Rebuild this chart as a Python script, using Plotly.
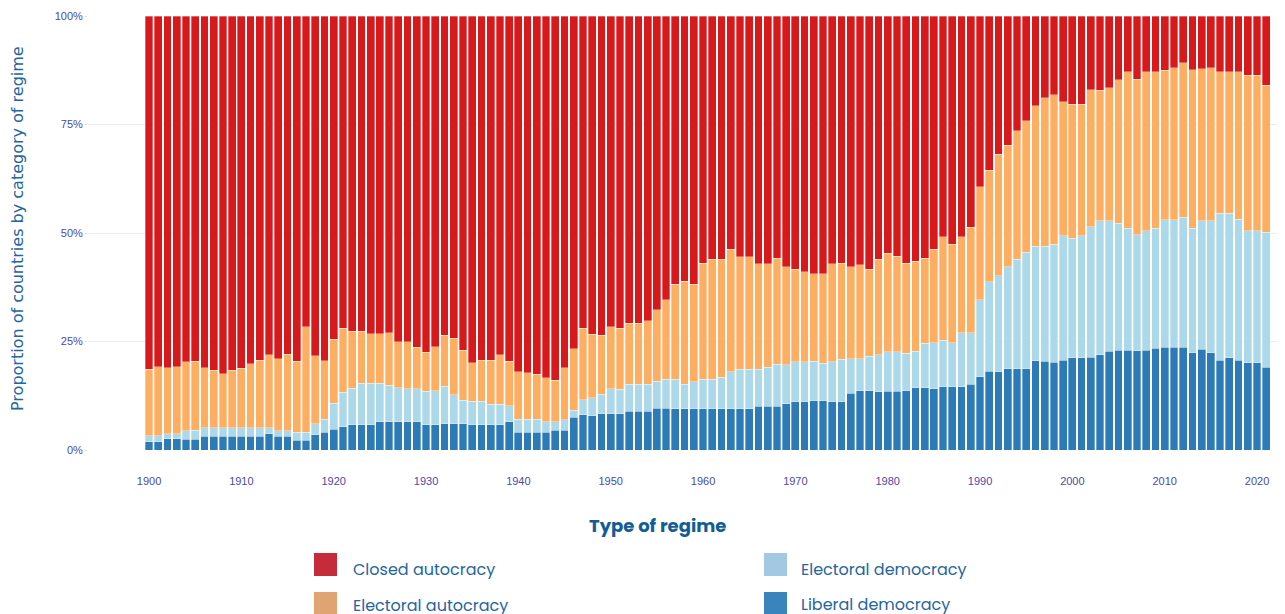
import plotly.graph_objects as go

years = list(range(1900, 2022))

liberal_democracy = [
    1.9, 1.9, 2.6, 2.6, 2.5, 2.5, 3.2, 3.2, 3.2, 3.2,
    3.2, 3.2, 3.2, 3.8, 3.2, 3.2, 2.3, 2.3, 3.5, 4.1,
    4.8, 5.4, 5.8, 5.8, 5.8, 6.5, 6.5, 6.5, 6.5, 6.5,
    5.8, 5.8, 6.1, 6.1, 6.1, 5.8, 5.8, 5.8, 5.8, 6.5,
    4.1, 4.1, 4.1, 4.1, 4.6, 4.6, 7.5, 8.1, 7.9, 8.4,
    8.4, 8.4, 8.9, 8.9, 8.9, 9.6, 9.6, 9.5, 9.5, 9.5,
    9.5, 9.5, 9.5, 9.5, 9.5, 9.5, 10.1, 10.1, 10.1, 10.7,
    11.1, 11.1, 11.4, 11.4, 11.1, 11.1, 13.1, 13.6, 13.6, 13.4,
    13.5, 13.5, 13.7, 14.3, 14.3, 14.1, 14.6, 14.6, 14.6, 15.1,
    16.9, 18.2, 18.0, 18.7, 18.7, 18.7, 20.6, 20.4, 20.2, 20.7,
    21.2, 21.2, 21.4, 22.0, 22.7, 23.0, 23.0, 22.9, 23.0, 23.5,
    23.7, 23.7, 23.7, 22.4, 23.2, 22.4, 20.7, 21.2, 20.7, 20.1,
    20.1, 19.1,
]

electoral_democracy = [
    1.4, 1.4, 1.2, 1.2, 1.9, 2.0, 1.9, 1.9, 1.9, 1.9,
    1.9, 1.9, 1.9, 1.3, 1.2, 1.2, 1.8, 1.8, 2.6, 3.0,
    6.0, 7.9, 8.4, 9.6, 9.6, 8.9, 8.4, 7.8, 7.6, 7.6,
    7.7, 7.8, 8.6, 6.6, 5.4, 5.4, 5.4, 4.8, 4.8, 3.7,
    3.0, 3.0, 3.0, 2.4, 1.9, 2.4, 1.7, 3.5, 4.1, 4.5,
    5.7, 5.6, 6.2, 6.2, 6.2, 6.2, 6.7, 6.8, 5.6, 6.2,
    6.8, 6.8, 7.3, 8.5, 9.1, 9.1, 8.5, 9.0, 9.7, 8.9,
    9.2, 9.2, 9.1, 8.6, 9.2, 9.8, 7.9, 7.4, 8.0, 8.5,
    9.1, 9.1, 8.6, 8.5, 10.3, 10.6, 10.7, 10.1, 12.4, 11.9,
    17.7, 20.6, 22.2, 23.5, 25.2, 26.9, 26.4, 26.6, 27.2, 28.7,
    27.6, 28.2, 30.0, 30.8, 30.1, 29.2, 28.1, 26.7, 27.5, 27.6,
    29.4, 29.4, 29.9, 28.7, 29.6, 30.4, 33.8, 33.3, 32.5, 30.4,
    30.4, 31.1,
]

electoral_autocracy = [
    15.3, 15.9, 15.1, 15.4, 15.9, 15.9, 13.8, 13.3, 12.5, 13.3,
    13.7, 14.8, 15.6, 16.9, 16.6, 17.7, 16.3, 24.3, 15.6, 13.5,
    14.7, 14.7, 13.2, 12.0, 11.4, 11.4, 12.1, 10.7, 10.8, 9.6,
    9.0, 10.2, 11.7, 13.0, 11.5, 8.9, 9.5, 10.1, 11.4, 10.3,
    10.9, 10.7, 10.3, 10.2, 9.6, 11.9, 14.1, 16.4, 14.7, 13.5,
    14.3, 14.1, 14.1, 14.1, 14.7, 16.5, 18.3, 21.9, 23.8, 22.5,
    26.7, 27.6, 27.1, 28.2, 25.9, 25.9, 24.3, 23.8, 24.4, 22.6,
    21.4, 20.8, 20.1, 20.6, 22.6, 22.1, 21.2, 21.7, 20.0, 22.1,
    22.7, 22.1, 20.7, 20.7, 19.6, 21.5, 23.8, 22.7, 22.1, 24.3,
    26.1, 25.7, 27.9, 28.0, 29.7, 30.3, 32.3, 34.2, 34.4, 30.9,
    30.9, 30.3, 31.6, 30.1, 30.7, 33.1, 36.0, 35.8, 36.6, 36.0,
    34.4, 35.0, 35.6, 36.5, 35.1, 35.3, 32.6, 32.6, 33.9, 35.9,
    35.9, 33.9,
]

closed_autocracy = [
    81.4, 80.8, 81.1, 80.8, 79.7, 79.6, 81.1, 81.6, 82.4, 81.6,
    81.2, 80.1, 79.3, 78.0, 79.0, 77.9, 79.6, 71.6, 78.3, 79.4,
    74.5, 72.0, 72.6, 72.6, 73.2, 73.2, 73.0, 75.0, 75.1, 76.3,
    77.5, 76.2, 73.6, 74.3, 77.0, 79.9, 79.3, 79.3, 78.0, 79.5,
    82.0, 82.2, 82.6, 83.3, 83.9, 81.1, 76.7, 72.0, 73.3, 73.6,
    71.6, 71.9, 70.8, 70.8, 70.2, 67.7, 65.4, 61.8, 61.1, 61.8,
    57.0, 56.1, 56.1, 53.8, 55.5, 55.5, 57.1, 57.1, 55.8, 57.8,
    58.3, 58.9, 59.4, 59.4, 57.1, 57.0, 57.8, 57.3, 58.4, 56.0,
    54.7, 55.3, 57.0, 56.5, 55.8, 53.8, 50.9, 52.6, 50.9, 48.7,
    39.3, 35.5, 31.9, 29.8, 26.4, 24.1, 20.7, 18.8, 18.2, 19.7,
    20.3, 20.3, 17.0, 17.1, 16.5, 14.7, 12.9, 14.6, 12.9, 12.9,
    12.5, 11.9, 10.8, 12.4, 12.1, 11.9, 12.9, 12.9, 12.9, 13.6,
    13.6, 15.9,
]

series_names = ["Liberal democracy", "Electoral democracy", "Electoral autocracy", "Closed autocracy"]
series_values = [liberal_democracy, electoral_democracy, electoral_autocracy, closed_autocracy]
bar_colors = ["#2c7bb6", "#abd9e9", "#fdae61", "#d7191c"]

legend_order = ["Closed autocracy", "Electoral autocracy", "Electoral democracy", "Liberal democracy"]
legend_colors = {"Closed autocracy": "#c52b3a", "Electoral autocracy": "#e0a372",
                 "Electoral democracy": "#a3c8e1", "Liberal democracy": "#3a84bd"}

x_ticks = list(range(1900, 2021, 10))
y_ticks = [0, 25, 50, 75, 100]

fig = go.Figure()
for name, vals, col in zip(series_names, series_values, bar_colors):
    fig.add_trace(go.Bar(
        x=years, y=vals, name=name, width=0.84,
        marker=dict(color=col, line=dict(color="rgba(255,255,255,0.55)", width=0.6)),
        showlegend=False,
    ))

# page offset from the default body margin of the html page
OFF = 8
W, H = 1285 - OFF, 614 - OFF
L, R, T = 88 - OFF, 0, 16 - OFF
B = H - (450 - OFF)
pw, ph = W - L - R, H - T - B


def px(x):
    return (x - OFF - L) / pw


def py(y):
    return (450 - y) / ph


shapes = []
annotations = []
positions = {
    "Closed autocracy": (314, 553, 351, 569),
    "Electoral autocracy": (314, 592, 351, 605),
    "Electoral democracy": (764, 553, 799, 569),
    "Liberal democracy": (764, 592, 799, 604),
}
for name in legend_order:
    sx, sy, tx, ty = positions[name]
    shapes.append(dict(type="rect", xref="paper", yref="paper",
                       x0=px(sx), x1=px(sx + 23), y0=py(sy), y1=py(sy + 23),
                       fillcolor=legend_colors[name], line=dict(width=0), layer="above"))
    annotations.append(dict(text=name, xref="paper", yref="paper", x=px(tx), y=py(ty),
                            xanchor="left", yanchor="middle", showarrow=False,
                            font=dict(family="Poppins, Open Sans, sans-serif", size=16, color="#2466a0")))

annotations.append(dict(text="<b>Type of regime</b>", xref="paper", yref="paper",
                        x=px(657), y=py(525), xanchor="center", yanchor="middle", showarrow=False,
                        font=dict(family="Poppins, Open Sans, sans-serif", size=18, color="#135d96")))
annotations.append(dict(text="Proportion of countries by category of regime", xref="paper", yref="paper",
                        x=px(17), y=py(229), xanchor="center", yanchor="middle", showarrow=False,
                        textangle=-90,
                        font=dict(family="DejaVu Sans, sans-serif", size=16, color="#2466a0")))

fig.update_layout(
    width=W, height=H,
    margin=dict(l=L, r=R, t=T, b=B, pad=0),
    barmode="stack",
    plot_bgcolor="white", paper_bgcolor="white",
    font=dict(family="Liberation Sans, Arial, sans-serif", size=11, color="#4a4aa8"),
    xaxis=dict(range=[1893.39, 2023.03], tickvals=x_ticks, ticktext=[str(t) for t in x_ticks],
               showgrid=False, zeroline=False, showline=False,
               ticks="outside", ticklen=21, tickcolor="rgba(0,0,0,0)",
               tickfont=dict(size=11, color="#4a4aa8")),
    yaxis=dict(range=[0, 100], tickvals=y_ticks, ticktext=[f"{t}%" for t in y_ticks],
               showgrid=True, gridcolor="#ececec", gridwidth=1, zeroline=False, showline=False,
               ticks="outside", ticklen=2, tickcolor="#d8d8d8",
               tickfont=dict(size=11, color="#4a4aa8")),
    shapes=shapes, annotations=annotations,
    showlegend=False,
)

fig.write_html("out.html")
